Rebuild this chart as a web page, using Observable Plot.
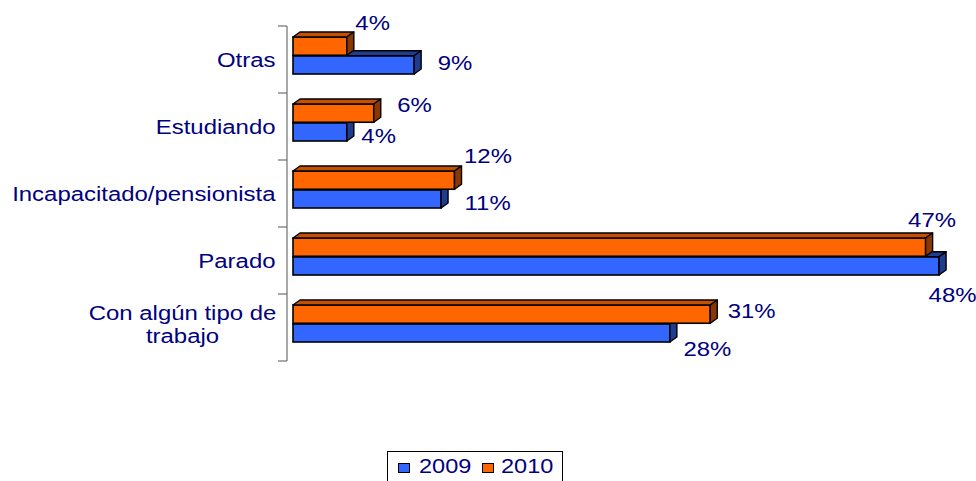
<!DOCTYPE html>
<html>
<head>
<meta charset="utf-8">
<script src="https://cdn.jsdelivr.net/npm/d3@7"></script>
<script src="https://cdn.jsdelivr.net/npm/@observablehq/plot@0.6"></script>
<style>
  html, body { margin: 0; padding: 0; background: #fff; overflow: hidden; }
  body { width: 976px; height: 481px; position: relative; font-family: "Liberation Sans", Arial, sans-serif; }
  #legend { position: absolute; left: 387px; top: 451px; width: 174px; height: 40px; border: 1px solid #000; background: #fff; }
  #legend .sw { position: absolute; width: 10px; height: 8px; border: 1.5px solid #000; top: 11px; }
  #legend .lb { position: absolute; top: 3px; font-size: 21px; line-height: 1; color: #000080; display: inline-block; transform: scaleX(1.12); transform-origin: left center; white-space: nowrap; }
</style>
</head>
<body>
<div id="chart"></div>
<div id="legend"></div>
<script>
// ---- data ----
const categories = ["Otras", "Estudiando", "Incapacitado/pensionista", "Parado", "Con algún tipo de trabajo"];
const categoryLabels = ["Otras", "Estudiando", "Incapacitado/pensionista", "Parado", "Con algún tipo de\ntrabajo"];
const years = ["2009", "2010"];
const values2009 = [9, 4, 11, 48, 28];
const values2010 = [4, 6, 12, 47, 31];

// ---- styling / layout ----
const navy = "#000080";
const colors = {
  "2009": {front: "#3366FF", top: "#1F3C8F", side: "#1F3C8F"},
  "2010": {front: "#FF6600", top: "#C45000", side: "#8A3800"}
};
const depth = {dx: 7, dy: 5};
// [dx from bar end to label start, dy from band centre]
const labelLayout = {
  "Otras|2010": [8, -37], "Otras|2009": [23, 3],
  "Estudiando|2010": [23, -22], "Estudiando|2009": [14, 9],
  "Incapacitado/pensionista|2010": [9, -38], "Incapacitado/pensionista|2009": [23, 9],
  "Parado|2010": [-18, -41], "Parado|2009": [-11, 34],
  "Con algún tipo de trabajo|2010": [17, -17], "Con algún tipo de trabajo|2009": [13, 21]
};
const FS = 21;
const STRETCH = 1.14;

const rows = [];
categories.forEach((c, i) => {
  rows.push({category: c, year: "2009", value: values2009[i]});
  rows.push({category: c, year: "2010", value: values2010[i]});
});

function bar3d(year, insetTop, insetBottom) {
  const c = colors[year];
  return Plot.barX(rows.filter(d => d.year === year), {
    x: "value", y: "category", fill: c.front, stroke: "#000", strokeWidth: 1.6,
    insetTop, insetBottom, dy: -4,
    render(index, scales, values, dimensions, context, next) {
      const g = next(index, scales, values, dimensions, context);
      const sel = d3.select(g);
      const rects = [];
      sel.selectAll("rect").each(function () {
        const r = d3.select(this);
        rects.push({x: +r.attr("x"), y: +r.attr("y"), w: +r.attr("width"), h: +r.attr("height")});
      });
      rects.forEach(({x, y, w, h}) => {
        const x1 = x + w, y2 = y + h, dx = depth.dx, dy = depth.dy;
        sel.append("polygon")
          .attr("points", [[x, y], [x1, y], [x1 + dx, y - dy], [x + dx, y - dy]].map(p => p.join(",")).join(" "))
          .attr("fill", c.top).attr("stroke", "#000").attr("stroke-width", 1.4).attr("stroke-linejoin", "round");
        sel.append("polygon")
          .attr("points", [[x1, y], [x1 + dx, y - dy], [x1 + dx, y2 - dy], [x1, y2]].map(p => p.join(",")).join(" "))
          .attr("fill", c.side).attr("stroke", "#000").attr("stroke-width", 1.4).attr("stroke-linejoin", "round");
      });
      return g;
    }
  });
}

const axisMark = Plot.ruleX([0], {
  stroke: "#6f6f6f",
  render(index, scales, values, dimensions) {
    const y = scales.y;
    const bw = typeof y.bandwidth === "function" ? y.bandwidth() : y.bandwidth;
    const step = typeof y.step === "function" ? y.step() : (y(categories[1]) - y(categories[0]));
    const x = dimensions.marginLeft - 6;
    const bounds = categories.map(c => y(c) - (step - bw) / 2);
    bounds.push(bounds[bounds.length - 1] + step);
    const g = d3.create("svg:g").attr("stroke", "#6f6f6f").attr("stroke-width", 1.2);
    g.append("line").attr("x1", x).attr("x2", x).attr("y1", bounds[0]).attr("y2", bounds[bounds.length - 1]);
    bounds.forEach(b => g.append("line").attr("x1", x - 9).attr("x2", x).attr("y1", b).attr("y2", b));
    return g.node();
  }
});

const valueLabels = rows.map(r => {
  const [dx, dy] = labelLayout[r.category + "|" + r.year];
  return Plot.text([r], {
    x: "value", y: "category", text: d => d.value + "%",
    textAnchor: "start", dx, dy, fill: navy, fontSize: FS
  });
});

const singleIdx = categoryLabels.map((l, i) => i).filter(i => !categoryLabels[i].includes("\n"));
const multiIdx = categoryLabels.map((l, i) => i).filter(i => categoryLabels[i].includes("\n"));

const catLabels = [
  Plot.text(singleIdx, {
    y: i => categories[i], text: i => categoryLabels[i],
    frameAnchor: "left", textAnchor: "end", dx: -18, fill: navy, fontSize: FS
  }),
  Plot.text(multiIdx, {
    y: i => categories[i], text: i => categoryLabels[i],
    frameAnchor: "left", textAnchor: "middle", dx: -111, dy: -4, lineHeight: 1.1, fill: navy, fontSize: FS
  })
];

const chart = Plot.plot({
  width: 976,
  height: 446,
  marginTop: 25,
  marginBottom: 84,
  marginLeft: 293,
  marginRight: 10,
  style: {fontFamily: "'Liberation Sans', Arial, sans-serif", fontSize: FS + "px", background: "#fff", color: navy, overflow: "visible"},
  x: {domain: [0, 50], axis: null},
  y: {domain: categories, axis: null, paddingInner: 0.4436, paddingOuter: 0.2218},
  marks: [
    axisMark,
    bar3d("2009", 18.75, 0),
    bar3d("2010", 0, 18.75),
    ...valueLabels,
    ...catLabels
  ]
});
document.getElementById("chart").appendChild(chart);

// horizontal stretch of text to match the reference rendering
chart.querySelectorAll("text").forEach(t => {
  const tr = t.getAttribute("transform") || "";
  const x = +(t.getAttribute("x") || 0) || 0;
  t.setAttribute("transform", `${tr} translate(${x},0) scale(${STRETCH},1) translate(${-x},0)`);
});

// legend
const legend = document.getElementById("legend");
const legendPos = {"2009": [10, 31], "2010": [94, 113]};
years.forEach(yv => {
  const sw = document.createElement("div");
  sw.className = "sw";
  sw.style.left = legendPos[yv][0] + "px";
  sw.style.background = colors[yv].front;
  legend.appendChild(sw);
  const lb = document.createElement("span");
  lb.className = "lb";
  lb.style.left = legendPos[yv][1] + "px";
  lb.textContent = yv;
  legend.appendChild(lb);
});
</script>
</body>
</html>
